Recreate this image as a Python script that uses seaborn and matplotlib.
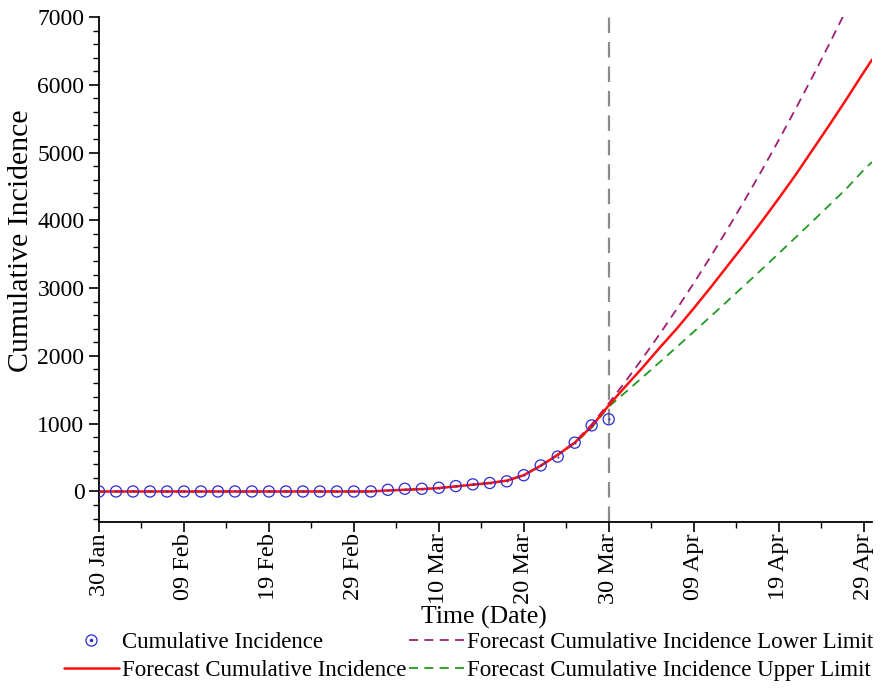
import pandas as pd
import matplotlib
matplotlib.use("Agg")
import matplotlib.pyplot as plt
from matplotlib.lines import Line2D
from matplotlib.legend_handler import HandlerTuple
import seaborn as sns

# observed cumulative incidence, every 2 days from 30 Jan to 30 Mar
obs_dates = pd.date_range("2020-01-30", "2020-03-30", freq="2D")
obs_values = [0, 0, 0, 0, 0, 0, 0, 0, 0, 0, 0, 0, 0, 0, 0, 0, 0,
              25, 40, 40, 55, 80, 105, 125, 150, 240, 385, 515, 720, 975, 1065]

# forecast curves, every 2 days from 30 Jan to 29 Apr + 30 Apr
fc_dates = list(pd.date_range("2020-01-30", "2020-04-29", freq="2D")) + [pd.Timestamp("2020-04-30")]
early = [0, 0, 0, 0, 0, 0, 0, 0, 0, 0, 0, 0, 0, 0, 0, 0, 0,
         15, 25, 35, 50, 75, 100, 125, 160, 240, 380]
fc_values = early + [540, 720, 960, 1270, 1553, 1830, 2120, 2400, 2700, 3010, 3330,
                     3650, 3980, 4320, 4670, 5040, 5410, 5790, 6180, 6370]
fc_lower = early + [545, 730, 990, 1300, 1627, 1967, 2321, 2689, 3070, 3465, 3873,
                    4295, 4731, 5180, 5643, 6119, 6609, 7113, 7630, 7894]
fc_upper = early + [535, 710, 940, 1250, 1467, 1686, 1907, 2130, 2355, 2582, 2811,
                    3042, 3275, 3510, 3747, 3986, 4227, 4470, 4740, 4860]

forecast_start = pd.Timestamp("2020-03-30")

# <editor-fold style>
sns.set_style("ticks")
plt.rcParams['font.family'] = ['Liberation Serif', 'DejaVu Serif']
plt.rcParams['text.color'] = 'black'
plt.rcParams['axes.labelcolor'] = 'black'
plt.rcParams['xtick.color'] = 'black'
plt.rcParams['ytick.color'] = 'black'
# </editor-fold>

fig = plt.figure(figsize=(8.81, 6.88), dpi=100)
ax = fig.add_axes([0.1124, 0.2413, 0.8774, 0.734])

purple = '#9e1f74'
green = '#1f9a1f'
red = '#ff1010'
blue = '#2a2ad0'

# forecast limits first so the red curve sits on top
sns.lineplot(x=fc_dates, y=fc_lower, ax=ax, color=purple, linewidth=1.3,
             linestyle=(0, (5, 3.5)))
sns.lineplot(x=fc_dates, y=fc_upper, ax=ax, color=green, linewidth=1.3,
             linestyle=(0, (5, 3.5)))
sns.lineplot(x=fc_dates, y=fc_values, ax=ax, color=red, linewidth=1.8)

# observed points: open circles with a dot in the middle
sns.scatterplot(x=obs_dates, y=obs_values, ax=ax, s=64, facecolors='none',
                edgecolor=blue, linewidth=0.9, zorder=4)
sns.scatterplot(x=obs_dates, y=obs_values, ax=ax, s=2, color=blue,
                edgecolor=blue, linewidth=0, zorder=4)

ax.axvline(forecast_start, color='#8c8c8c', linewidth=1.6, linestyle=(0, (7, 4)), zorder=1)

# <editor-fold axes>
ax.set_xlim(pd.Timestamp("2020-01-30"), pd.Timestamp("2020-04-30"))
ax.set_ylim(-450, 7000)

major = pd.date_range("2020-01-30", "2020-04-29", freq="10D")
minor = pd.date_range("2020-02-04", "2020-04-30", freq="10D")
ax.set_xticks(major)
ax.set_xticklabels([d.strftime("%d %b") for d in major], rotation=90, fontsize=17.5)
ax.set_xticks(minor, minor=True)

ax.set_yticks(range(0, 7001, 1000))
ax.set_yticks(range(-400, 7001, 200), minor=True)
ax.tick_params(axis='y', labelsize=17)
ax.tick_params(which='major', direction='out', length=7, width=1.2)
ax.tick_params(which='minor', direction='out', length=4, width=1.0)
ax.tick_params(axis='x', which='major', pad=1)

for side in ['top', 'right']:
    ax.spines[side].set_visible(False)
for side in ['left', 'bottom']:
    ax.spines[side].set_linewidth(1.3)
    ax.spines[side].set_color('black')

ax.set_xlabel("Time (Date)", fontsize=18.5)
ax.xaxis.set_label_coords(0.498, -0.166)
ax.set_ylabel("Cumulative Incidence", fontsize=21.5)
ax.yaxis.set_label_coords(-0.084, 0.556)
# </editor-fold>

# <editor-fold legend>
h_obs = (Line2D([], [], marker='o', linestyle='none', markersize=8, markerfacecolor='none',
                markeredgecolor=blue, markeredgewidth=0.9),
         Line2D([], [], marker='o', linestyle='none', markersize=1.5, color=blue))
h_fc = Line2D([], [], color=red, linewidth=1.8)
h_low = Line2D([], [], color=purple, linewidth=1.3, linestyle=(0, (5, 3.5)))
h_up = Line2D([], [], color=green, linewidth=1.3, linestyle=(0, (5, 3.5)))

fig.legend([h_obs, h_fc, h_low, h_up],
           ["Cumulative Incidence", "Forecast Cumulative Incidence",
            "Forecast Cumulative Incidence Lower Limit", "Forecast Cumulative Incidence Upper Limit"],
           handler_map={tuple: HandlerTuple(ndivide=1)},
           ncol=2, loc='upper center', bbox_to_anchor=(0.532, 0.102), frameon=False,
           fontsize=16.5, handlelength=2.4, handletextpad=0.15, columnspacing=0.1,
           labelspacing=0.3, borderpad=0.1)
# </editor-fold>

plt.savefig('out.png', dpi=100)
